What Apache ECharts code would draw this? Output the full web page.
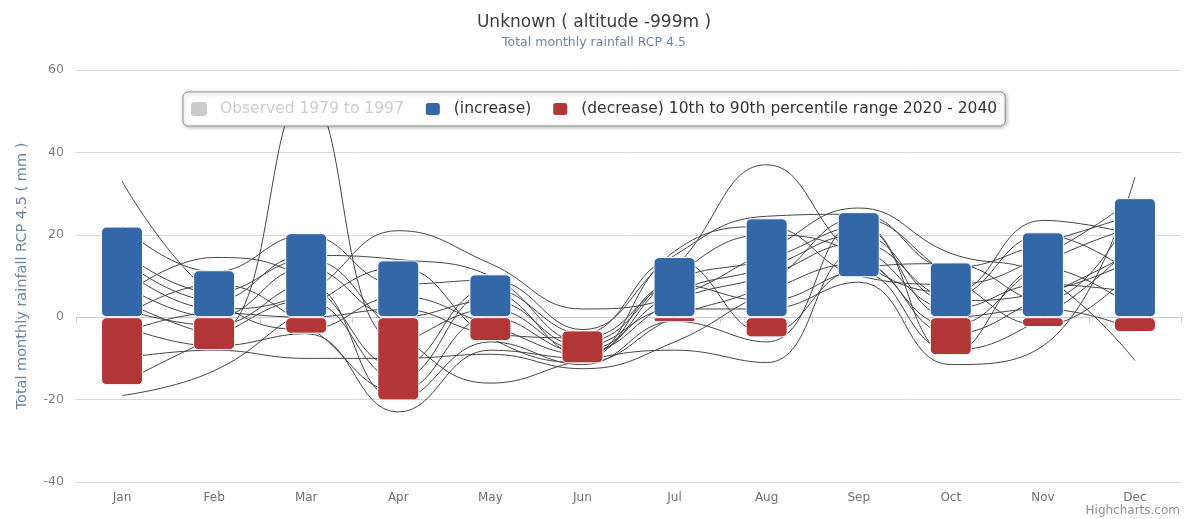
<!DOCTYPE html>
<html><head><meta charset="utf-8">
<script src="https://cdn.jsdelivr.net/npm/echarts@6/dist/echarts.min.js"></script>
<style>html,body{margin:0;padding:0;background:#fff}#c{width:1188px;height:519px}</style>
</head><body><div id="c"></div><script>
const months = ['Jan','Feb','Mar','Apr','May','Jun','Jul','Aug','Sep','Oct','Nov','Dec'];
const yTicks = [-40, -20, 0, 20, 40, 60];
// 10th-90th percentile range, split into increase (blue) and decrease (red) parts
const incLow  = [0, 0, 0, 0, 0, null, 0, 0, 9.7, 0, 0, 0];
const incHigh = [22, 11.4, 20.4, 13.8, 10.4, null, 14.6, 24, 25.5, 13.3, 20.6, 28.9];
const decHigh = [0, 0, 0, 0, 0, -3.2, 0, 0, null, 0, 0, 0];
const decLow  = [-16.5, -8, -4, -20.2, -5.8, -11.2, -1.2, -4.9, null, -9.2, -2.4, -3.6];
const observed = [];
// individual model projections
const modelA = [4, -4, 54, -6, 2, -8, 6, 12, 20, 4, 6, 14];
const modelB = [33, 5, -3, 5, -2, -9, 10, 20, 15, -2, 13, 22];
const modelC = [-19, -13, 2, 12, -5, -11, 0, 8, 24, 10, -2, 12];
const modelD = [5, 14.5, 9, -12, 7, -4, 14, -4, 12, 13, 4, 27];
const modelE = [12, 2, 6, 21, 13, 2, 5, 16, 26.5, 15.5, 10, -10.5];
const modelF = [-2, -7, -4, -23, -8, -10, 8, 4, 11, -8, 0, 18];
const modelG = [16, 6, 14, -4, -16, -10.5, -8, -11, 16, 2, 8, 6];
const modelH = [-10, -8, -10, -10, -9, -12.5, -6, 6, 13, -4, 5, 16];
const modelI = [8, 0, 12, 0, 4, -7, 2, 2, 8.5, -11.5, -7, 34];
const modelJ = [14, 4, 15, 14, 10, -6, 12, 37, 14, 6, 23.5, 20];
const modelK = [22, 11, 20, 8, 9, -3, 15, 24.5, 25, 12, 18, 25];
const modelL = [-16, -5, 4, -15, 6, -9.5, 16, 22, 10, 8, 15, 29];
const modelM = [0, 8, -2, -18, 0, -8.5, 4, 10, 18, 5, 20, 10];
const modelN = [-4, 1, 0, 2, -4, -5, 9, 14, 22, -9, 12, 2];
const modelO = [2, -2, 8, -20, -6, -11.5, -1, -6, 23, 0, 2, -3];
const models = [modelA, modelB, modelC, modelD, modelE, modelF, modelG, modelH,
                modelI, modelJ, modelK, modelL, modelM, modelN, modelO];

const BLUE = '#3467a8', RED = '#b23638';
const incBase = incLow.map(v => v);
const incLen = incHigh.map((v, i) => v == null ? null : +(v - incLow[i]).toFixed(2));
const decBase = decHigh.map(v => v);
const decLen = decLow.map((v, i) => v == null ? null : +(v - decHigh[i]).toFixed(2));

const barCommon = { type: 'bar', barWidth: 42, barGap: '-100%', z: 3, silent: true };
const series = [];
models.forEach((m, k) => series.push({
  name: 'model' + k, type: 'line', data: m, smooth: 0.45, symbol: 'none', z: 2, silent: true,
  lineStyle: { color: '#454545', width: 1 }
}));
series.push(Object.assign({}, barCommon, { name: 'Observed 1979 to 1997', data: observed, itemStyle: { color: '#c0c0c0' } }));
series.push(Object.assign({}, barCommon, { name: 'incBase', stack: 'inc', data: incBase, itemStyle: { color: 'rgba(0,0,0,0)' } }));
series.push(Object.assign({}, barCommon, { name: '(increase)', stack: 'inc', data: incLen,
  itemStyle: { color: BLUE, borderColor: '#fff', borderWidth: 1, borderRadius: 5 } }));
series.push(Object.assign({}, barCommon, { name: 'decBase', stack: 'dec', data: decBase, itemStyle: { color: 'rgba(0,0,0,0)' } }));
series.push(Object.assign({}, barCommon, { name: '(decrease) 10th to 90th percentile range 2020 - 2040', stack: 'dec', data: decLen,
  itemStyle: { color: RED, borderColor: '#fff', borderWidth: 1, borderRadius: 5 } }));

const chart = echarts.init(document.getElementById('c'), null, { renderer: 'canvas' });
chart.setOption({
  animation: false,
  backgroundColor: '#fff',
  title: {
    text: 'Unknown ( altitude -999m )',
    subtext: 'Total monthly rainfall RCP 4.5',
    left: 'center', top: 9, itemGap: 5,
    textStyle: { fontFamily: 'DejaVu Sans', fontSize: 17, fontWeight: 'normal', color: '#3e3e3e' },
    subtextStyle: { fontFamily: 'DejaVu Sans', fontSize: 12.5, color: '#6d869f' }
  },
  legend: {
    left: 183, top: 92, z: 10, zlevel: 1,
    data: ['Observed 1979 to 1997', '(increase)', '(decrease) 10th to 90th percentile range 2020 - 2040'],
    selected: { 'Observed 1979 to 1997': false },
    icon: 'roundRect', itemWidth: 16, itemHeight: 14, itemGap: 20,
    padding: [9, 8, 9, 8],
    backgroundColor: '#fff', borderColor: '#909090', borderWidth: 1, borderRadius: 5,
    shadowBlur: 4, shadowColor: 'rgba(0,0,0,0.3)', shadowOffsetX: 1, shadowOffsetY: 1,
    inactiveColor: '#cccccc',
    textStyle: { fontFamily: 'DejaVu Sans', fontSize: 15.5, color: '#333', padding: [0, 0, 0, 8] }
  },
  graphic: [{
    type: 'text', right: 8, top: 505,
    style: { text: 'Highcharts.com', fontFamily: 'DejaVu Sans', fontSize: 12, fill: '#909090' }
  }],
  grid: { left: 76, right: 7, top: 70, bottom: 37, containLabel: false },
  xAxis: {
    type: 'category', data: months, boundaryGap: true,
    axisLine: { lineStyle: { color: '#c0d0e0' } },
    axisTick: { show: true, length: 6, lineStyle: { color: '#c0d0e0' } },
    axisLabel: { color: '#707070', fontFamily: 'DejaVu Sans', fontSize: 12, margin: 10 }
  },
  yAxis: {
    type: 'value', min: yTicks[0], max: yTicks[yTicks.length - 1], interval: 20,
    name: 'Total monthly rainfall RCP 4.5 ( mm )', nameLocation: 'middle', nameGap: 46, nameRotate: 90,
    nameTextStyle: { color: '#6d869f', fontFamily: 'DejaVu Sans', fontSize: 14.5 },
    axisLine: { show: false }, axisTick: { show: false },
    axisLabel: { color: '#808080', fontFamily: 'DejaVu Sans', fontSize: 12.5, margin: 12 },
    splitLine: { lineStyle: { color: '#d8d8d8' } }
  },
  series: series
});
</script></body></html>
